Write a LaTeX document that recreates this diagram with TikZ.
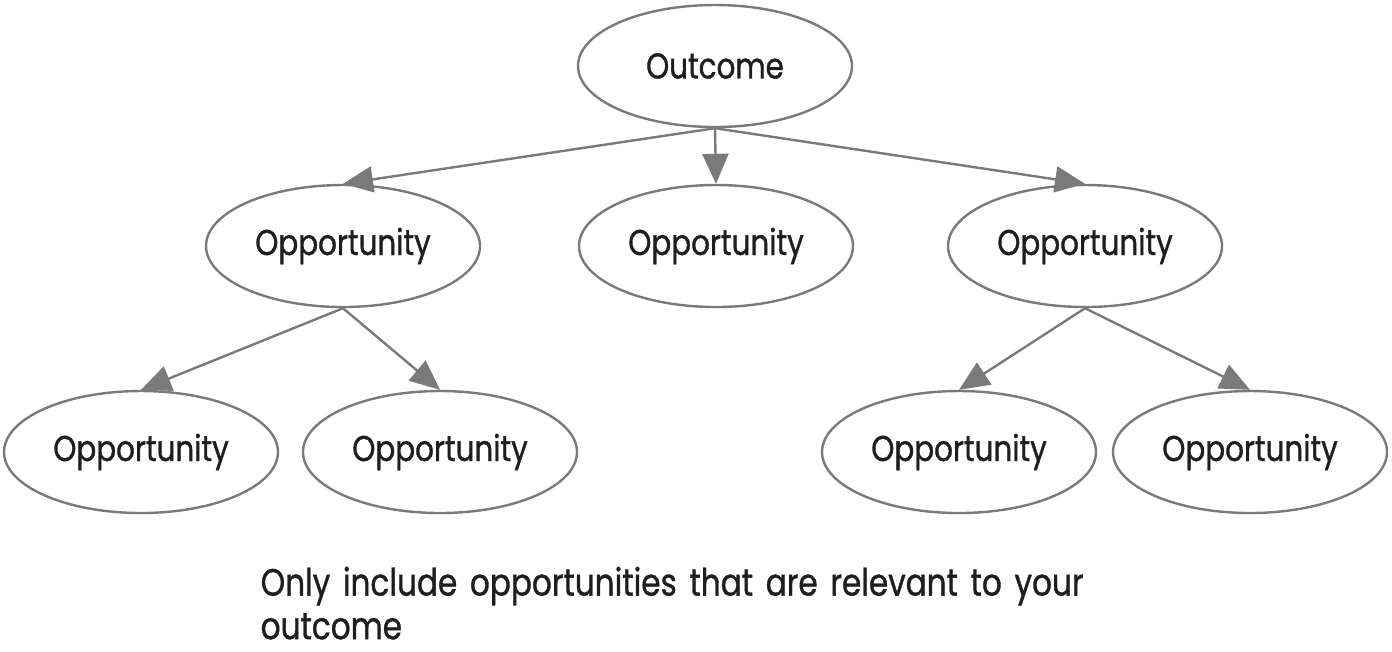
\documentclass[tikz,border=0pt]{standalone}
\usepackage{fontspec}
\setmainfont{Poppins}[FakeStretch=0.82,FakeBold=0.9]
\usetikzlibrary{arrows.meta,shapes.geometric}
\definecolor{edgegray}{HTML}{7A7A7A}
\definecolor{textdark}{HTML}{1E1E1E}
\begin{document}
\begin{tikzpicture}[>={Triangle[length=0.3cm,width=0.26cm]},
    opp/.style={ellipse,draw=edgegray,line width=0.024cm,minimum width=2.74cm,minimum height=1.22cm,inner sep=0pt,text=textdark,font=\fontsize{10.2}{12}\selectfont},
    link/.style={->,draw=edgegray,line width=0.024cm}]
        \useasboundingbox (0,0) rectangle (13.92,-6.51);
        % top node
        \node[opp] (out) at (7.15,-0.66) {Outcome};
        % middle row
        \node[opp] (opA) at (3.43,-2.46) {Opportunity};
        \node[opp] (opB) at (7.16,-2.46) {Opportunity};
        \node[opp] (opC) at (10.85,-2.46) {Opportunity};
        % bottom row
        \node[opp] (opAa) at (1.41,-4.52) {Opportunity};
        \node[opp] (opAb) at (4.40,-4.52) {Opportunity};
        \node[opp] (opCa) at (9.59,-4.52) {Opportunity};
        \node[opp] (opCb) at (12.50,-4.52) {Opportunity};
        \draw[link] (out.south)--(opA.north);
        \draw[link] (out.south)--(opB.north);
        \draw[link] (out.south)--(opC.north);
        \draw[link] (opA.south)--(opAa.north);
        \draw[link] (opA.south)--(opAb.north);
        \draw[link] (opC.south)--(opCa.north);
        \draw[link] (opC.south)--(opCb.north);
        % note
        \node[anchor=north west,inner sep=0pt,text width=10cm,align=left,text=textdark,font=\fontsize{10.8}{12.4}\selectfont] (note) at (2.6,-5.66) {Only include opportunities that are relevant to your\\outcome};
    \end{tikzpicture}
\end{document}
